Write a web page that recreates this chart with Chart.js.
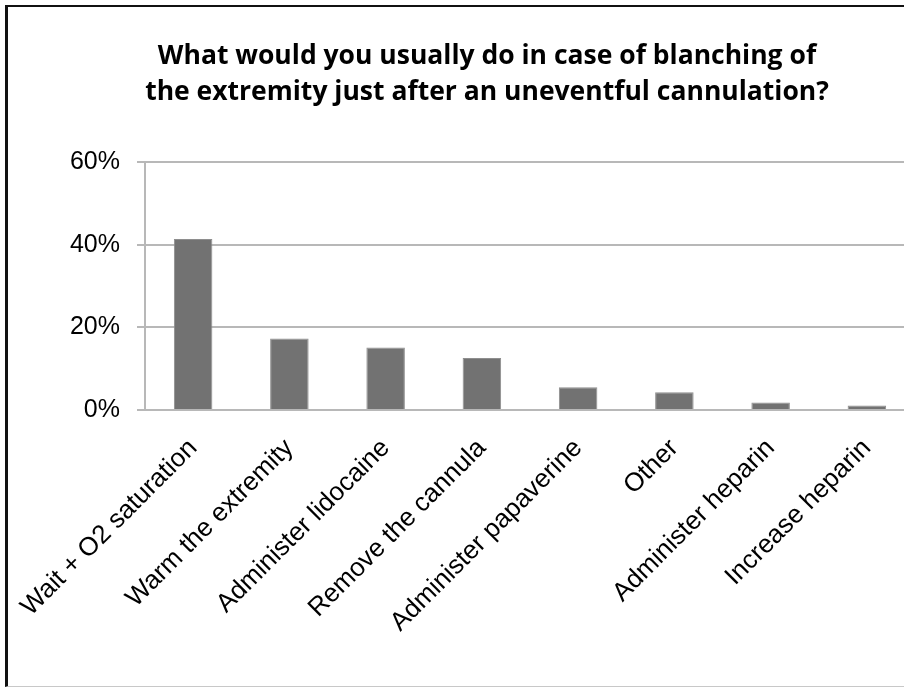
<!DOCTYPE html>
<html>
<head>
<meta charset="utf-8">
<title>Blanching of the extremity</title>
<script src="https://cdn.jsdelivr.net/npm/chart.js@4/dist/chart.umd.min.js"></script>
<style>
  html, body { margin: 0; padding: 0; background: #fff; overflow: hidden; }
  body { width: 904px; height: 687px; position: relative; }
  #frame {
    position: absolute; left: 5px; top: 5px;
    width: 930px; height: 679px;
    border-left: 3px solid #111;
    border-top: 2px solid #111;
    border-bottom: 1px solid #c8c8c8;
    overflow: hidden;
  }
  #wrap { position: absolute; left: 0; top: 0; width: 908px; height: 678px; }
</style>
</head>
<body>
<div id="frame">
  <div id="wrap"><canvas id="chart"></canvas></div>
</div>
<script>
const categories = [
  'Wait + O2 saturation',
  'Warm the extremity',
  'Administer lidocaine',
  'Remove the cannula',
  'Administer papaverine',
  'Other',
  'Administer heparin',
  'Increase heparin',
];
const responses = [41.4, 17.3, 15.1, 12.6, 5.5, 4.3, 1.8, 1.1];
const yTicks = [0, 20, 40, 60];
const titleLines = [
  'What would you usually do in case of blanching of',
  'the extremity just after an uneventful cannulation?',
];

const gridGrey = '#b8b8b8';

// two-line bold heading, centred over the plot
const headingPlugin = {
  id: 'heading',
  afterDraw(chart) {
    const ctx = chart.ctx;
    ctx.save();
    ctx.fillStyle = '#000';
    ctx.font = 'bold 26.5px "Open Sans", Lato, sans-serif';
    ctx.textAlign = 'center';
    ctx.textBaseline = 'alphabetic';
    titleLines.forEach((line, i) => ctx.fillText(line, 479, 57 + i * 36));
    ctx.restore();
  },
};

new Chart(document.getElementById('chart'), {
  type: 'bar',
  data: {
    labels: categories,
    datasets: [{
      data: responses,
      backgroundColor: '#727272',
      borderColor: '#8e8e8e',
      borderWidth: 1,
      categoryPercentage: 1,
      barPercentage: 0.4,
    }],
  },
  options: {
    responsive: true,
    maintainAspectRatio: false,
    animation: false,
    layout: { padding: { top: 155, right: 1, left: 0, bottom: 0 } },
    plugins: {
      legend: { display: false },
      title: { display: false },
      tooltip: { enabled: false },
    },
    scales: {
      x: {
        grid: { display: false },
        border: { color: gridGrey, width: 2 },
        ticks: {
          color: '#000',
          font: { family: '"Liberation Sans", Arial, sans-serif', size: 26 },
          maxRotation: 45,
          minRotation: 45,
          padding: 15,
        },
        afterFit(scale) {
          // rotated labels may hang past the plot edge; keep the plot where it is
          scale.height = 275;
          scale.paddingLeft = 0;
          scale.paddingRight = 0;
        },
      },
      y: {
        min: 0,
        max: 60,
        afterBuildTicks(scale) { scale.ticks = yTicks.map((v) => ({ value: v })); },
        grid: { color: gridGrey, lineWidth: 2, tickLength: 8 },
        border: { color: gridGrey, width: 2 },
        ticks: {
          color: '#000',
          font: { family: '"Liberation Sans", Arial, sans-serif', size: 25 },
          padding: 17,
          callback: (v) => v + '%',
        },
        afterFit(scale) { scale.width = 137; },
      },
    },
  },
  plugins: [headingPlugin],
});
</script>
</body>
</html>
